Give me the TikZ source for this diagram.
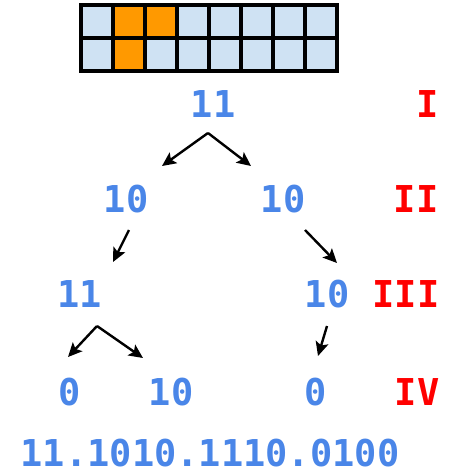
\documentclass[tikz,border=0pt]{standalone}
\usepackage{fontspec}
\newfontfamily\monofont{DejaVu Sans Mono}
\usetikzlibrary{arrows.meta}
\definecolor{cellblue}{HTML}{CFE2F3}
\definecolor{cellorange}{HTML}{FF9900}
\definecolor{numblue}{HTML}{4A86E8}
\definecolor{lvlred}{HTML}{FF0000}
\tikzset{
  num/.style={text=numblue, font=\monofont\bfseries\fontsize{37}{42}\selectfont, inner sep=0pt, anchor=center},
  lvl/.style={text=lvlred, font=\monofont\bfseries\fontsize{37}{42}\selectfont, inner sep=0pt, anchor=center},
  arr/.style={-{Stealth[length=14pt,width=13pt,inset=3pt]}, line width=2.4pt, black},
  cell/.style={draw=black, line width=3.2pt, fill=cellblue},
  hot/.style={draw=black, line width=3.2pt, fill=cellorange}
}
\begin{document}
\begin{tikzpicture}[x=1pt,y=-1pt]
\useasboundingbox (0,0) rectangle (450,473);
% grid
\foreach \i in {0,...,7} {
  \foreach \j in {0,1} {
    \path[cell] ({81+32*\i},{5+33*\j}) rectangle ({81+32*(\i+1)},{5+33*(\j+1)});
  }
}
\path[hot] (113,5) rectangle (145,38);
\path[hot] (145,5) rectangle (177,38);
\path[hot] (113,38) rectangle (145,71);
% tree nodes
\node[num] (r) at (213,104) {11};
\node[lvl] (l1) at (428,104) {I};
\node[num] (a) at (126,199) {10};
\node[num] (b) at (283,199) {10};
\node[lvl] (l2) at (416,199) {II};
\node[num] (c) at (80,294) {11};
\node[num] (d) at (327,294) {10};
\node[lvl] (l3) at (406,294) {III};
\node[num] (e) at (70,392) {0};
\node[num] (f) at (171,392) {10};
\node[num] (g) at (316,392) {0};
\node[lvl] (l4) at (417,392) {IV};
\node[num] (code) at (210,453) {11.1010.1110.0100};
% arrow points
\coordinate (rapex) at (208,133);
\coordinate (rl) at (162,166);
\coordinate (rr) at (251,166);
\coordinate (as) at (129,230);
\coordinate (ae) at (113,262);
\coordinate (bs) at (305,230);
\coordinate (be) at (337,263);
\coordinate (capex) at (97,326);
\coordinate (cl) at (68,357);
\coordinate (cr) at (143,358);
\coordinate (ds) at (327,326);
\coordinate (de) at (318,356);
\draw[arr] (rapex) -- (rl);
\draw[arr] (rapex) -- (rr);
\draw[arr] (as) -- (ae);
\draw[arr] (bs) -- (be);
\draw[arr] (capex) -- (cl);
\draw[arr] (capex) -- (cr);
\draw[arr] (ds) -- (de);
\end{tikzpicture}
\end{document}
